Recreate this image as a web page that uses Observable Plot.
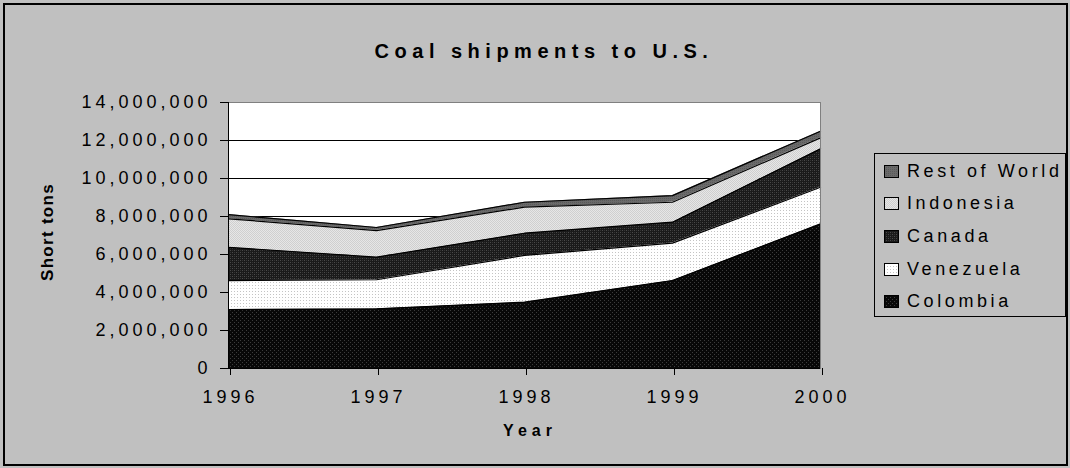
<!DOCTYPE html>
<html><head><meta charset="utf-8">
<script src="https://cdn.jsdelivr.net/npm/d3@7"></script>
<script src="https://cdn.jsdelivr.net/npm/@observablehq/plot@0.6"></script>
<style>
body{margin:0;background:#c0c0c0;font-family:"Liberation Sans",Arial,sans-serif;color:#000;}
#wrap{position:relative;width:1070px;height:468px;overflow:hidden;background:#c0c0c0;}
#chart{position:absolute;left:0;top:0;}
.border{position:absolute;left:3px;top:3px;width:1061px;height:459px;border:2px solid #000;pointer-events:none;}
#title{position:absolute;left:0;width:1088px;top:40px;text-align:center;font-weight:bold;font-size:20px;letter-spacing:5.5px;}
#ylabel{position:absolute;left:48px;top:232px;transform:translate(-50%,-50%) rotate(-90deg);font-weight:bold;font-size:17px;letter-spacing:1.3px;white-space:nowrap;}
#xlabel{position:absolute;left:530px;top:422px;transform:translateX(-50%);font-weight:bold;font-size:16px;letter-spacing:5px;}
#legend{position:absolute;left:874px;top:153px;width:192px;height:164px;border:1px solid #000;box-sizing:border-box;}
.item{position:absolute;left:9px;height:24px;display:flex;align-items:center;font-size:18px;letter-spacing:3.6px;white-space:nowrap;}
.item svg{margin-right:8px;}
</style></head><body>
<div id="wrap">
<svg width="0" height="0" style="position:absolute">
<defs>
<pattern id="pColombia" width="4" height="4" patternUnits="userSpaceOnUse"><rect width="4" height="4" fill="#080808"/><rect x="0" y="0" width="1" height="1" fill="#3c3c3c"/><rect x="2" y="2" width="1" height="1" fill="#3c3c3c"/></pattern>
<pattern id="pVenezuela" width="3" height="3" patternUnits="userSpaceOnUse"><rect width="3" height="3" fill="#fff"/><rect x="0" y="0" width="1" height="1" fill="#c4c4c4"/></pattern>
<pattern id="pCanada" width="4" height="4" patternUnits="userSpaceOnUse"><rect width="4" height="4" fill="#1a1a1a"/><rect x="0" y="0" width="1" height="1" fill="#4a4a4a"/><rect x="2" y="2" width="1" height="1" fill="#4a4a4a"/><rect x="2" y="0" width="1" height="1" fill="#333"/><rect x="0" y="2" width="1" height="1" fill="#333"/></pattern>
<pattern id="pIndonesia" width="2" height="2" patternUnits="userSpaceOnUse"><rect width="2" height="2" fill="#e6e6e6"/><rect x="0" y="0" width="1" height="1" fill="#cfcfcf"/><rect x="1" y="1" width="1" height="1" fill="#cfcfcf"/></pattern>
<pattern id="pRest" width="2" height="2" patternUnits="userSpaceOnUse"><rect width="2" height="2" fill="#6a6a6a"/><rect x="0" y="0" width="1" height="1" fill="#5a5a5a"/></pattern>
</defs></svg>
<div id="chart"></div>
<div class="border"></div>
<div id="title">Coal shipments to U.S.</div>
<div id="ylabel">Short tons</div>
<div id="xlabel">Year</div>
<div id="legend"></div>
</div>
<script>
const years = [1996, 1997, 1998, 1999, 2000];
const countries = ["Colombia", "Venezuela", "Canada", "Indonesia", "Rest of World"];
const colombia = [3100000, 3140000, 3490000, 4630000, 7610000];
const venezuela = [1530000, 1530000, 2460000, 1970000, 1930000];
const canada = [1750000, 1190000, 1170000, 1100000, 2020000];
const indonesia = [1500000, 1400000, 1370000, 1050000, 580000];
const restOfWorld = [220000, 160000, 260000, 350000, 350000];
const yTicks = [0, 2000000, 4000000, 6000000, 8000000, 10000000, 12000000, 14000000];
const patterns = ["url(#pColombia)", "url(#pVenezuela)", "url(#pCanada)", "url(#pIndonesia)", "url(#pRest)"];

const series = [colombia, venezuela, canada, indonesia, restOfWorld];
const data = [];
countries.forEach((c, i) => years.forEach((y, j) => data.push({country: c, year: y, value: series[i][j]})));

const chart = Plot.plot({
  width: 1070, height: 468,
  marginLeft: 228, marginRight: 250, marginTop: 102, marginBottom: 100,
  style: {background: "transparent", fontFamily: "'Liberation Sans', Arial, sans-serif", fontSize: "18px", letterSpacing: "4px", color: "#000", overflow: "visible"},
  x: {domain: [1996, 2000]},
  y: {domain: [0, 14000000]},
  color: {type: "ordinal", domain: countries, range: patterns},
  marks: [
    Plot.frame({fill: "#fff", stroke: null}),
    Plot.gridY(yTicks, {stroke: "#000", strokeOpacity: 1, strokeWidth: 1}),
    Plot.areaY(data, Plot.stackY({x: "year", y: "value", z: "country", fill: "country"})),
    Plot.lineY(data, Plot.stackY2({x: "year", y: "value", z: "country", stroke: "#000", strokeWidth: 1.2})),
    Plot.frame({stroke: "#808080"}),
    Plot.ruleX([1996], {stroke: "#000"}),
    Plot.ruleY([0], {stroke: "#000"}),
    Plot.axisY({ticks: yTicks, tickFormat: d3.format(","), tickSize: 8, tickPadding: 9, label: null}),
    Plot.axisX({ticks: years, tickFormat: d => String(d), tickSize: 7, tickPadding: 15, label: null, dx: 2, letterSpacing: "3.5px"})
  ]
});
document.getElementById("chart").appendChild(chart);

const legend = document.getElementById("legend");
const order = [4, 3, 2, 1, 0];
const tops = [5, 37, 70, 103, 135];
order.forEach((i, k) => {
  const d = document.createElement("div");
  d.className = "item";
  d.style.top = tops[k] + "px";
  d.innerHTML = `<svg width="15" height="13"><rect x="0.5" y="0.5" width="14" height="12" fill="${patterns[i]}" stroke="#000"/></svg><span>${countries[i]}</span>`;
  legend.appendChild(d);
});
</script>
</body></html>
